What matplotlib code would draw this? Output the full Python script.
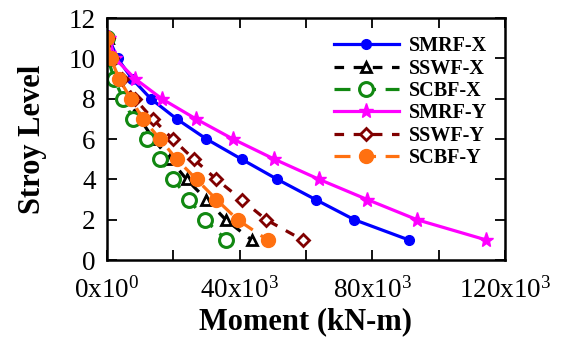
"""Storey moment profiles for SMRF / SSWF / SCBF frames, X and Y directions."""

import matplotlib

matplotlib.use("Agg")
import matplotlib.pyplot as plt
from matplotlib.ticker import FixedLocator, FuncFormatter

plt.rcParams["font.family"] = ["Liberation Serif", "DejaVu Serif"]
plt.rcParams["mathtext.fontset"] = "custom"
plt.rcParams["mathtext.rm"] = "Liberation Serif"
plt.rcParams["mathtext.it"] = "Liberation Serif:italic"
plt.rcParams["mathtext.bf"] = "Liberation Serif:bold"

# story levels (top to bottom)
levels = [11, 10, 9, 8, 7, 6, 5, 4, 3, 2, 1]

# moments in kN-m
smrf_x = [500, 3200, 7500, 13200, 21000, 30000, 40600, 51400, 62900, 74600, 91000]
sswf_x = [300, 1000, 3000, 6000, 10000, 14000, 19000, 24000, 30000, 35800, 43600]
scbf_x = [0, 300, 2100, 4900, 7800, 12000, 16000, 20000, 24800, 29500, 36000]
smrf_y = [600, 2400, 8400, 16500, 26800, 38000, 50500, 64000, 78500, 93500, 114300]
sswf_y = [300, 1500, 4500, 8400, 13800, 19800, 26200, 33000, 40600, 48000, 59000]
scbf_y = [0, 1200, 3600, 7200, 10800, 16000, 21000, 27000, 33000, 39400, 48400]

series_names = ["SMRF-X", "SSWF-X", "SCBF-X", "SMRF-Y", "SSWF-Y", "SCBF-Y"]

fig = plt.figure(figsize=(5.63, 3.40), dpi=100)
ax = fig.add_axes([0.190, 0.235, 0.707, 0.712])

ax.plot(smrf_x, levels, color="#0000ff", lw=2.3, marker="o", ms=7,
        label=series_names[0])
ax.plot(sswf_x, levels, color="black", lw=2.3, ls=(0, (3, 3)), marker="^", ms=7,
        mfc="white", mew=2, label=series_names[1])
ax.plot(scbf_x, levels, color="#118811", lw=2.3, ls=(0, (5, 3)), marker="o", ms=10,
        mfc="white", mew=2.2, label=series_names[2])
ax.plot(smrf_y, levels, color="#ff00ff", lw=2.3, marker="*", ms=11,
        label=series_names[3])
ax.plot(sswf_y, levels, color="#800000", lw=2.3, ls=(0, (3, 3)), marker="D", ms=6,
        mfc="white", mew=2, label=series_names[4])
ax.plot(scbf_y, levels, color="#ff7010", lw=2.3, ls=(0, (5, 3)), marker="o", ms=10,
        label=series_names[5])

ax.set_xlim(0, 120000)
ax.set_ylim(0, 12)
ax.xaxis.set_major_locator(FixedLocator([0, 40000, 80000, 120000]))
ax.xaxis.set_minor_locator(FixedLocator([20000, 60000, 100000]))


def fmt_x(v, pos):
    if v == 0:
        return r"0x10$^{0}$"
    return r"%dx10$^{3}$" % int(round(v / 1000))


ax.xaxis.set_major_formatter(FuncFormatter(fmt_x))
ax.set_yticks(range(0, 13, 2))

ax.tick_params(which="both", direction="in", top=True, right=True,
               length=7, width=1.3, labelsize=19.5)
ax.tick_params(axis="x", pad=12)
ax.tick_params(axis="y", pad=8)
for s in ax.spines.values():
    s.set_linewidth(1.8)

ax.set_xlabel("Moment (kN-m)", fontsize=22, fontweight="bold", labelpad=3)
ax.set_ylabel("Stroy Level", fontsize=22, fontweight="bold", labelpad=16)

leg = ax.legend(loc="upper right", frameon=False, handlelength=3.2,
                prop={"weight": "bold", "size": 14.5}, labelspacing=0.12,
                handletextpad=0.5, borderaxespad=0.5)

fig.savefig("out.png", dpi=100)
